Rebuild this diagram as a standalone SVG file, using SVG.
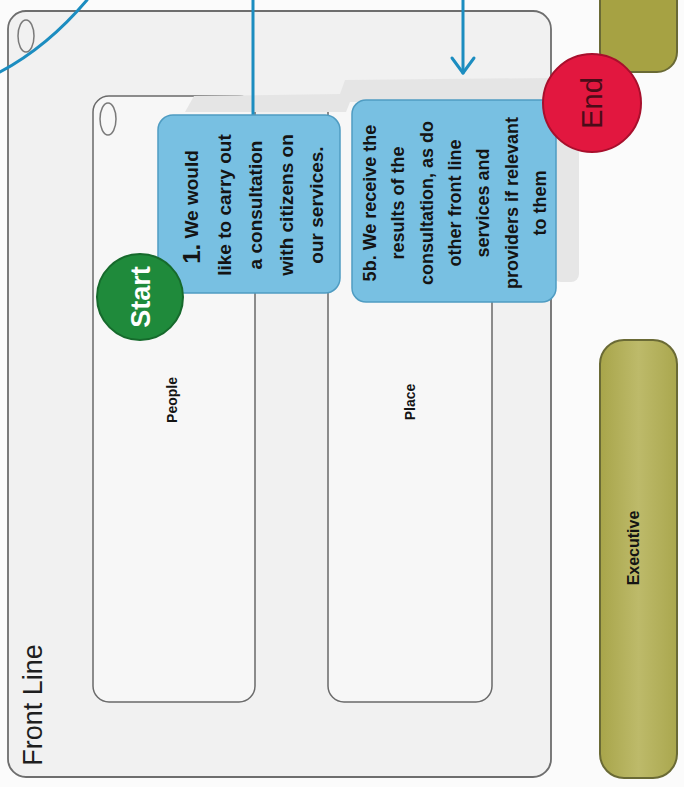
<svg xmlns="http://www.w3.org/2000/svg" width="684" height="787" viewBox="0 0 684 787">
<style>
  .lane { fill: #f7f7f7; stroke: #6a6a6a; stroke-width: 1.5; }
  .task { fill: #78c0e2; stroke: #4f9cc2; stroke-width: 1.5; }
  .tt { font-family: "Liberation Sans", Arial, sans-serif; font-weight: bold; fill: #141414; }
  .conn { fill: none; stroke: #1c8dc0; stroke-width: 3; stroke-linecap: round; stroke-linejoin: round; }
  .olive { stroke: #6a6a35; stroke-width: 2; }
  .slot { fill: none; stroke: #7a7a7a; stroke-width: 1.5; }
</style>
<defs>
  <linearGradient id="exec" x1="0" y1="0" x2="1" y2="0">
    <stop offset="0" stop-color="#a8a54a"/>
    <stop offset="0.5" stop-color="#bdba6a"/>
    <stop offset="1" stop-color="#aaa74e"/>
  </linearGradient>
</defs>
<rect x="0" y="0" width="684" height="787" fill="#fbfbfb"/>

<g id="front-line">
  <rect x="8" y="11" width="543" height="766" rx="18" fill="#f1f1f1" stroke="#6e6e6e" stroke-width="1.8"/>
  <ellipse class="slot" cx="26" cy="36" rx="8" ry="16"/>
  <text transform="translate(33,705) rotate(-90)" text-anchor="middle" dominant-baseline="central" font-family="Liberation Sans, Arial, sans-serif" font-size="27" fill="#1e1e1e">Front Line</text>
</g>

<g id="lane-people">
  <rect class="lane" x="93" y="96" width="162" height="606" rx="16"/>
  <ellipse class="slot" cx="108" cy="119" rx="8" ry="16"/>
  <text class="tt" transform="translate(172,400) rotate(-90)" text-anchor="middle" dominant-baseline="central" font-size="14">People</text>
</g>

<g id="lane-place">
  <rect class="lane" x="328" y="96" width="164" height="606" rx="16"/>
  <text class="tt" transform="translate(410,402) rotate(-90)" text-anchor="middle" dominant-baseline="central" font-size="14">Place</text>
</g>

<g id="header-shadow">
  <path d="M185,112 L194,96 L340,94 L345,80 L548,78 L548,100 L350,102 L346,112 Z" fill="#e5e5e5"/>
  <rect x="553" y="132" width="26" height="150" rx="8" fill="#e6e6e6"/>
</g>

<g id="connectors">
  <path class="conn" d="M0,72 C30,56 60,32 87,0"/>
  <line class="conn" x1="253" y1="0" x2="253" y2="117"/>
  <line class="conn" x1="463" y1="0" x2="463" y2="73"/>
  <polyline class="conn" points="452,58 463,73 474,58"/>
</g>

<g id="task-1">
  <rect class="task" x="158" y="115" width="182" height="178" rx="15"/>
  <text class="tt" transform="translate(191,207) rotate(-90)" text-anchor="middle" dominant-baseline="central" font-size="19"><tspan font-size="24">1.</tspan> We would</text>
  <text class="tt" transform="translate(224,205) rotate(-90)" text-anchor="middle" dominant-baseline="central" font-size="19">like to carry out</text>
  <text class="tt" transform="translate(255,205) rotate(-90)" text-anchor="middle" dominant-baseline="central" font-size="19">a consultation</text>
  <text class="tt" transform="translate(286,205) rotate(-90)" text-anchor="middle" dominant-baseline="central" font-size="19">with citizens on</text>
  <text class="tt" transform="translate(316,205) rotate(-90)" text-anchor="middle" dominant-baseline="central" font-size="19">our services.</text>
</g>

<g id="task-5b">
  <rect class="task" x="352" y="100" width="204" height="202" rx="14" fill="#84c4e2"/>
  <text class="tt" transform="translate(370,203) rotate(-90)" text-anchor="middle" dominant-baseline="central" font-size="18">5b. We receive the</text>
  <text class="tt" transform="translate(398,203) rotate(-90)" text-anchor="middle" dominant-baseline="central" font-size="18">results of the</text>
  <text class="tt" transform="translate(427,203) rotate(-90)" text-anchor="middle" dominant-baseline="central" font-size="18">consultation, as do</text>
  <text class="tt" transform="translate(455,203) rotate(-90)" text-anchor="middle" dominant-baseline="central" font-size="18">other front line</text>
  <text class="tt" transform="translate(483,203) rotate(-90)" text-anchor="middle" dominant-baseline="central" font-size="18">services and</text>
  <text class="tt" transform="translate(512,203) rotate(-90)" text-anchor="middle" dominant-baseline="central" font-size="18">providers if relevant</text>
  <text class="tt" transform="translate(540,203) rotate(-90)" text-anchor="middle" dominant-baseline="central" font-size="18">to them</text>
</g>

<g id="olive-top">
  <rect class="olive" x="600" y="-20" width="77" height="92" rx="20" fill="#a6a243"/>
</g>

<g id="executive">
  <rect class="olive" x="600" y="340" width="77" height="438" rx="24" fill="url(#exec)"/>
  <text class="tt" transform="translate(633,548) rotate(-90)" text-anchor="middle" dominant-baseline="central" font-size="16" fill="#4b481c">Executive</text>
</g>

<g id="start">
  <circle cx="140" cy="297" r="43" fill="#1f8a3b" stroke="#166a2c" stroke-width="2"/>
  <text transform="translate(141,297) rotate(-90)" text-anchor="middle" dominant-baseline="central" font-family="Liberation Sans, Arial, sans-serif" font-weight="bold" font-size="27" fill="#ffffff">Start</text>
</g>

<g id="end">
  <circle cx="592" cy="103" r="49" fill="#e2173f" stroke="#a80f2c" stroke-width="2"/>
  <text transform="translate(592,103) rotate(-90)" text-anchor="middle" dominant-baseline="central" font-family="Liberation Sans, Arial, sans-serif" font-size="29" fill="#4a0c18">End</text>
</g>
</svg>
